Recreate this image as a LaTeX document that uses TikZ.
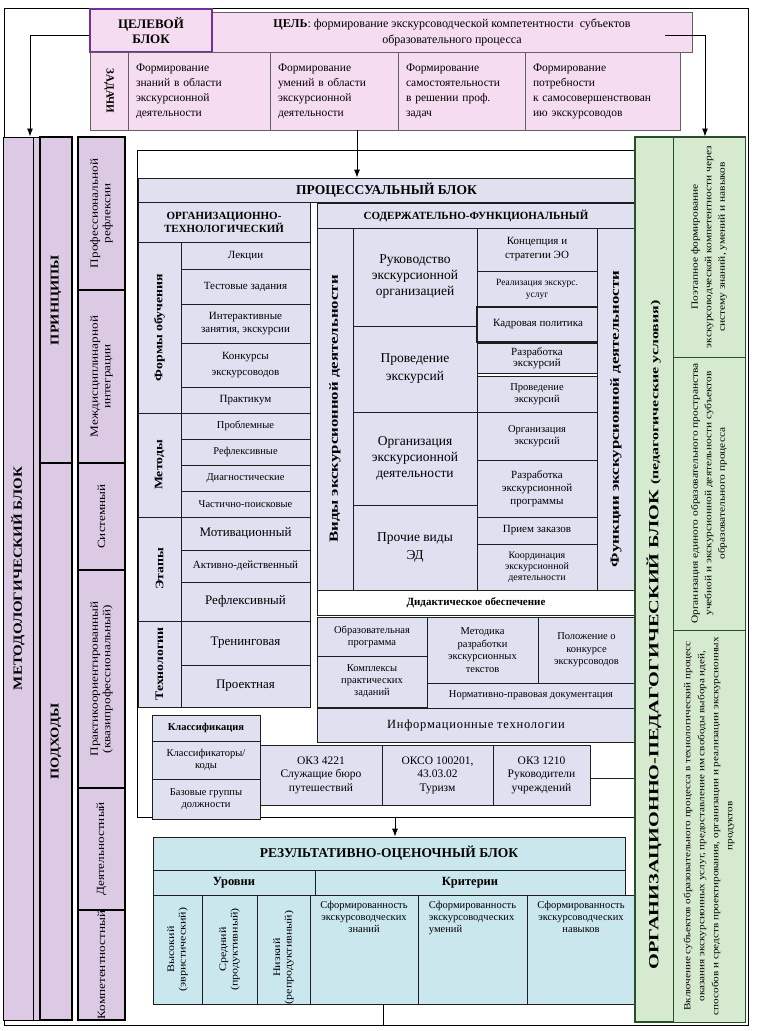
\documentclass[tikz,border=0pt]{standalone}
\usepackage{fontspec}
\setmainfont{Liberation Serif}
\usetikzlibrary{arrows.meta}
\definecolor{pinkf}{RGB}{246,220,240}
\definecolor{purp}{RGB}{112,48,160}
\definecolor{lavm}{RGB}{220,202,228}
\definecolor{lavp}{RGB}{223,225,240}
\definecolor{cyanr}{RGB}{203,231,238}
\definecolor{greenf}{RGB}{214,234,208}
\definecolor{greend}{RGB}{40,80,40}
\definecolor{ink}{RGB}{30,30,30}
\newcommand\fz[2]{\fontsize{#1}{#2}\selectfont}
\newcommand\bx[7][]{\node[cell,minimum width={(#5-#3)*1pt},minimum height={(#6-#4)*1pt},#1] (#2) at ({(#3+#5)/2},{(#4+#6)/2}) {#7};}
\begin{document}
\begin{tikzpicture}[x=1pt,y=-1pt,
 cell/.style={draw=ink,line width=0.7pt,inner sep=1pt,align=center,font=\fz{11}{12.5}},
 arr/.style={draw=black,line width=0.9pt,-{Latex[length=8pt,width=6pt]}},
 rot/.style={rotate=90,xscale=1.2,align=center},
 pk/.style={fill=pinkf,draw=ink!70},
 lm/.style={fill=lavm,draw=black,line width=1.2pt},
 lp/.style={fill=lavp},
 rc/.style={fill=cyanr},
 gr/.style={fill=greenf,draw=greend,line width=1pt},
]
\useasboundingbox (0,0) rectangle (758,1031);
\fill[white] (0,0) rectangle (758,1031);
\bx[draw=black,line width=1pt]{frame}{4}{8}{748}{1025}{}
\bx[fill=white,draw=black,line width=1pt]{pframe}{137}{150}{637}{817}{}
% ---------- target block
\bx[pk,line width=0.6pt,font=\fz{12}{16}]{cel}{212}{12}{692}{52}{\textbf{ЦЕЛЬ}: формирование экскурсоводческой компетентности\ \ субъектов\\образовательного процесса}
\bx[pk,draw=purp,line width=2pt,font=\bfseries\fz{13}{15}]{celblok}{90}{9}{212}{52}{ЦЕЛЕВОЙ\\БЛОК}
\bx[pk]{zadlab}{90}{52}{128}{130}{}
\node[rotate=-90,font=\bfseries\fz{11}{12}] at (zadlab) {ЗАДАЧИ};
\bx[pk,align=left,text width=126pt,inner xsep=8pt,font=\fz{11.5}{15}]{z1}{128}{52}{270}{130}{Формирование\\знаний в области\\экскурсионной\\деятельности}
\bx[pk,align=left,text width=112pt,inner xsep=8pt,font=\fz{11.5}{15}]{z2}{270}{52}{398}{130}{Формирование\\умений в области\\экскурсионной\\деятельности}
\bx[pk,align=left,text width=111pt,inner xsep=8pt,font=\fz{11.5}{15}]{z3}{398}{52}{525}{130}{Формирование\\самостоятельности\\в решении проф.\\задач}
\bx[pk,align=left,text width=139pt,inner xsep=8pt,font=\fz{11.5}{15}]{z4}{525}{52}{680}{130}{Формирование\\потребности\\к самосовершенствован\\ию экскурсоводов}
% ---------- methodological block
\bx[lm,line width=1pt]{metod}{3}{137}{33}{1020}{}
\node[rot,font=\bfseries\fz{12.5}{14}] at (metod) {МЕТОДОЛОГИЧЕСКИЙ БЛОК};
\bx[lm,line width=0.6pt]{strip}{33}{137}{40}{1020}{}
\bx[lm]{princ}{40}{137}{72}{463}{}
\node[rot,font=\bfseries\fz{12}{14}] at (princ) {ПРИНЦИПЫ};
\bx[lm]{podh}{40}{463}{72}{1020}{}
\node[rot,font=\bfseries\fz{12}{14}] at (podh) {ПОДХОДЫ};
\bx[lm]{pr1}{78}{137}{125}{290}{}
\node[rot,font=\fz{11}{12.5}] at (pr1) {Профессиональной\\рефлексии};
\bx[lm]{pr2}{78}{290}{125}{463}{}
\node[rot,font=\fz{11}{12.5}] at (pr2) {Междисциплинарной\\интеграции};
\bx[lm]{pr3}{78}{463}{125}{570}{}
\node[rot,font=\fz{11}{12.5}] at (pr3) {Системный};
\bx[lm]{pr4}{78}{570}{125}{788}{}
\node[rot,font=\fz{11}{12.5}] at (pr4) {Практикоориентированный\\(квазипрофессиональный)};
\bx[lm]{pr5}{78}{788}{125}{910}{}
\node[rot,font=\fz{11}{12.5}] at (pr5) {Деятельностный};
\bx[lm]{pr6}{78}{910}{125}{1020}{}
\node[rot,font=\fz{11}{12.5}] at (pr6) {Компетентностный};
% ---------- process block
\bx[lp,font=\bfseries\fz{13.5}{15}]{ptitle}{138}{178}{635}{202}{ПРОЦЕССУАЛЬНЫЙ БЛОК}
\bx[lp,font=\bfseries\fz{11}{13}]{othead}{138}{202}{310}{242}{ОРГАНИЗАЦИОННО-\\ТЕХНОЛОГИЧЕСКИЙ}
\bx[lp]{fo}{138}{242}{181}{413}{}
\node[rot,font=\bfseries\fz{11.5}{13}] at (fo) {Формы обучения};
\bx[lp,font=\fz{11}{12.5}]{fo1}{181}{242}{310}{269}{Лекции}
\bx[lp,font=\fz{11}{12.5}]{fo2}{181}{269}{310}{304}{Тестовые задания}
\bx[lp,font=\fz{11}{12.5}]{fo3}{181}{304}{310}{343}{Интерактивные\\занятия, экскурсии}
\bx[lp,font=\fz{11}{16}]{fo4}{181}{343}{310}{387}{Конкурсы\\экскурсоводов}
\bx[lp,font=\fz{11}{12.5}]{fo5}{181}{387}{310}{413}{Практикум}
\bx[lp]{met}{138}{413}{181}{517}{}
\node[rot,font=\bfseries\fz{11.5}{13}] at (met) {Методы};
\bx[lp,font=\fz{10.5}{12}]{me1}{181}{413}{310}{439}{Проблемные}
\bx[lp,font=\fz{10.5}{12}]{me2}{181}{439}{310}{465}{Рефлексивные}
\bx[lp,font=\fz{10.5}{12}]{me3}{181}{465}{310}{491}{Диагностические}
\bx[lp,font=\fz{10.5}{12}]{me4}{181}{491}{310}{517}{Частично-поисковые}
\bx[lp]{eta}{138}{517}{181}{621}{}
\node[rot,font=\bfseries\fz{11.5}{13}] at (eta) {Этапы};
\bx[lp,font=\fz{13}{14}]{et1}{181}{517}{310}{550}{Мотивационный}
\bx[lp,font=\fz{11}{12.5}]{et2}{181}{550}{310}{582}{Активно-действенный}
\bx[lp,font=\fz{13}{14}]{et3}{181}{582}{310}{621}{Рефлексивный}
\bx[lp]{teh}{138}{621}{181}{707}{}
\node[rot,font=\bfseries\fz{11.5}{13}] at (teh) {Технологии};
\bx[lp,font=\fz{13}{14}]{te1}{181}{621}{310}{665}{Тренинговая}
\bx[lp,font=\fz{13}{14}]{te2}{181}{665}{310}{707}{Проектная}
% content-functional
\bx[lp,font=\bfseries\fz{11}{13}]{sfhead}{317}{203}{635}{228}{СОДЕРЖАТЕЛЬНО-ФУНКЦИОНАЛЬНЫЙ}
\bx[lp]{vidy}{317}{228}{353}{590}{}
\node[rot,xscale=1.12,font=\bfseries\fz{12.5}{14}] at (vidy) {Виды экскурсионной деятельности};
\bx[lp,font=\fz{13.5}{16}]{vd1}{353}{228}{477}{326}{Руководство\\экскурсионной\\организацией}
\bx[lp,font=\fz{13.5}{18}]{vd2}{353}{326}{477}{412}{Проведение\\экскурсий}
\bx[lp,font=\fz{13.5}{16}]{vd3}{353}{412}{477}{505}{Организация\\экскурсионной\\деятельности}
\bx[lp,font=\fz{13.5}{18}]{vd4}{353}{505}{477}{590}{Прочие виды\\ЭД}
\bx[lp,font=\fz{11}{14}]{f1}{477}{228}{597}{271}{Концепция и\\стратегии ЭО}
\bx[lp,font=\fz{9.5}{12}]{f2}{477}{271}{597}{307}{Реализация экскурс.\\услуг}
\bx[lp,line width=1.2pt,font=\fz{11}{12.5}]{f3}{477}{307}{599}{342}{Кадровая политика}
\bx[lp,font=\fz{11}{11}]{f4}{477}{343}{597}{373}{Разработка\\экскурсий}
\bx[lp,font=\fz{10.5}{12}]{f5}{477}{376}{597}{412}{Проведение\\экскурсий}
\bx[lp,font=\fz{10.5}{12.5}]{f6}{477}{412}{597}{460}{Организация\\экскурсий}
\bx[lp,font=\fz{11}{13}]{f7}{477}{460}{597}{517}{Разработка\\экскурсионной\\программы}
\bx[lp,font=\fz{11}{12.5}]{f8}{477}{517}{597}{544}{Прием заказов}
\bx[lp,font=\fz{10}{11}]{f9}{477}{544}{597}{590}{Координация\\экскурсионной\\деятельности}
\bx[lp]{funk}{597}{228}{635}{590}{}
\node[rot,xscale=1.12,font=\bfseries\fz{12.5}{14}] at ([xshift=0pt,yshift=-10pt]funk.center) {Функции экскурсионной деятельности};
% didactic
\bx[fill=white,font=\bfseries\fz{11}{13}]{did}{317}{590}{635}{615}{Дидактическое обеспечение}
\bx[lp,font=\fz{10.5}{12}]{d1}{317}{617}{427}{656}{Образовательная\\программа}
\bx[lp,font=\fz{10.5}{12}]{d2}{317}{656}{427}{707}{Комплексы\\практических\\заданий}
\bx[lp,font=\fz{10.5}{12.5}]{d3}{427}{617}{538}{683}{Методика\\разработки\\экскурсионных\\текстов}
\bx[lp,font=\fz{10.5}{12.5}]{d4}{538}{617}{635}{683}{Положение о\\конкурсе\\экскурсоводов}
\bx[lp,font=\fz{10.5}{12}]{d5}{427}{683}{635}{708}{Нормативно-правовая документация}
\bx[lp,font=\fz{12.5}{14}]{d6}{317}{708}{635}{742}{\addfontfeature{LetterSpace=6}Информационные технологии}
% classification
\bx[lp,font=\bfseries\fz{10.5}{12}]{klh}{152}{715}{260}{741}{Классификация}
\bx[lp,font=\fz{10.5}{12.5}]{kl1}{152}{741}{260}{779}{Классификаторы/\\коды}
\bx[lp,font=\fz{10.5}{12.5}]{kl2}{152}{779}{260}{819}{Базовые группы\\должности}
\bx[lp,font=\fz{11.5}{13.5}]{ok1}{260}{745}{382}{805}{ОКЗ 4221\\Служащие бюро\\путешествий}
\bx[lp,font=\fz{11.5}{13.5}]{ok2}{382}{745}{493}{805}{ОКСО 100201,\\43.03.02\\Туризм}
\bx[lp,font=\fz{11.5}{13.5}]{ok3}{493}{745}{590}{805}{ОКЗ 1210\\Руководители\\учреждений}
\coordinate (okr) at (635,778);
\draw[line width=0.7pt,draw=ink] (ok3.east |- okr) -- (okr);
% ---------- result block
\bx[rc,font=\bfseries\fz{13.5}{15}]{rtitle}{153}{837}{625}{870}{РЕЗУЛЬТАТИВНО-ОЦЕНОЧНЫЙ БЛОК}
\bx[rc,font=\bfseries\fz{12.5}{14}]{urh}{153}{870}{315}{895}{Уровни}
\bx[rc,font=\bfseries\fz{12.5}{14}]{krh}{315}{870}{625}{895}{Критерии}
\bx[rc]{l1}{153}{895}{202}{1004}{}
\node[rot,font=\fz{10}{11.5}] at (l1) {Высокий\\(эвристический)};
\bx[rc]{l2}{202}{895}{257}{1004}{}
\node[rot,font=\fz{10}{11.5}] at (l2) {Средний\\(продуктивный)};
\bx[rc]{l3}{257}{895}{310}{1004}{}
\node[rot,font=\fz{10}{11.5}] at ([yshift=-8pt]l3.center) {Низкий\\(репродуктивный)};
\bx[rc]{k1}{310}{895}{418}{1004}{}
\node[anchor=north,align=center,font=\fz{10.5}{12}] at ([yshift=-3pt]k1.north) {Сформированность\\экскурсоводческих\\знаний};
\bx[rc]{k2}{418}{895}{527}{1004}{}
\node[anchor=north,align=left,font=\fz{10.5}{12}] at ([yshift=-3pt]k2.north) {Сформированность\\экскурсоводческих\\умений};
\bx[rc]{k3}{527}{895}{635}{1004}{}
\node[anchor=north,align=center,font=\fz{10.5}{12}] at ([yshift=-3pt]k3.north) {Сформированность\\экскурсоводческих\\навыков};
% ---------- organisational-pedagogical block
\bx[gr,line width=1.3pt]{op}{635}{137}{745}{1022}{}
\coordinate (optc) at (654,635);
\node[rotate=90,xscale=1.45,font=\bfseries\fz{14}{15}] at (optc) {ОРГАНИЗАЦИОННО-ПЕДАГОГИЧЕСКИЙ БЛОК \fz{11}{12}(педагогические условия)};
\bx[gr]{g1}{673}{137}{745}{357}{}
\node[rot,font=\fz{9.5}{13.5}] at (g1) {Поэтапное формирование\\экскурсоводческой компетентности через\\систему знаний, умений и навыков};
\bx[gr]{g2}{673}{357}{745}{630}{}
\node[rot,font=\fz{9.5}{13.5}] at (g2) {Организация единого образовательного пространства\\учебной и экскурсионной деятельности субъектов\\образовательного процесса};
\bx[gr]{g3}{673}{630}{745}{1022}{}
\node[rot,font=\fz{9.3}{14}] at (g3) {Включение субъектов образовательного процесса в технологический процесс\\оказания экскурсионных услуг, предоставление им свободы выбора идей,\\способов и средств проектирования, организации и реализации экскурсионных\\продуктов};
% ---------- connectors
\coordinate (ya) at (30,35);
\coordinate (celr) at (665,35);
\coordinate (yb) at (705,35);
\coordinate (xc) at (357,0);
\coordinate (xd) at (395,0);
\coordinate (xe) at (383,0);
\draw[arr] (celblok.west |- ya) -| (metod.north -| ya);
\draw[arr] (celr) -| (g1.north -| yb);
\draw[arr] (z2.south -| xc) -- (ptitle.north -| xc);
\draw[arr] (pframe.south -| xd) -- (rtitle.north -| xd);
\draw[line width=0.9pt] (k1.south -| xe) -- (frame.south -| xe);
\end{tikzpicture}
\end{document}
